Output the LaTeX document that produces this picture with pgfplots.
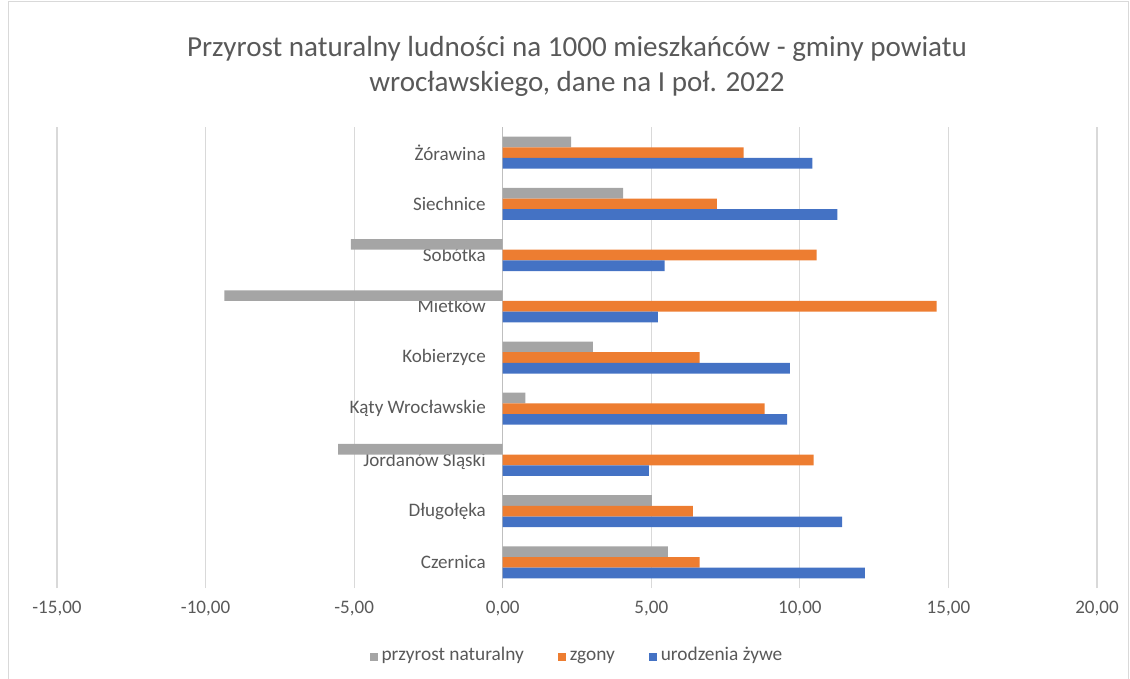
\documentclass[border=0pt]{standalone}
\usepackage{pgfplots}
\pgfplotsset{compat=1.18}
\usepackage{fontspec}
\setmainfont{Carlito}
\definecolor{cgray}{HTML}{A5A5A5}
\definecolor{corange}{HTML}{ED7D31}
\definecolor{cblue}{HTML}{4472C4}
\definecolor{ctext}{HTML}{595959}
\definecolor{cgrid}{HTML}{D9D9D9}
\begin{document}
\begin{tikzpicture}
\path[use as bounding box] (0,0) rectangle (847.5pt,508.5pt);
\draw[cgrid,line width=0.75pt] (6pt,-5pt) rectangle (846pt,507.5pt);
\begin{axis}[
  at={(42.75pt,67.5pt)}, anchor=south west,
  scale only axis, width=780pt, height=345.75pt,
  xbar, bar width=8pt,
  xmin=-15, xmax=20, ymin=-0.5, ymax=8.5,
  xtick={-15,-10,-5,0,5,10,15,20},
  ytick={0,...,8},
  yticklabels={Czernica,Długołęka,Jordanów Śląski,Kąty Wrocławskie,Kobierzyce,Mietków,Sobótka,Siechnice,Żórawina},
  axis line style={draw=none},
  major tick length=0pt,
  xmajorgrids, major grid style={cgrid,line width=0.9pt},
  extra x ticks={0}, extra x tick labels={},
  extra x tick style={major grid style={color=black!25,line width=1pt}},
  /pgf/number format/.cd, fixed, fixed zerofill, precision=2, use comma, assume math mode=true,
  /pgfplots/.cd,
  ticklabel style={font=\fontsize{14.3}{16}\selectfont, text=ctext},
  xticklabel style={anchor=center, yshift=-15.75pt},
  yticklabel style={anchor=east, inner sep=0pt, xshift=321.75pt},
  title={Przyrost naturalny ludności na 1000 mieszkańców - gminy powiatu\\wrocławskiego, dane na I poł. 2022},
  title style={at={(0.5,1)}, anchor=center, yshift=39.6pt, align=center,
    font=\fontsize{21.8}{26.25}\selectfont, text=ctext},
  legend style={at={(0.5,-0.1497)}, anchor=center, draw=none, legend columns=3,
    font=\fontsize{14.5}{16}\selectfont, text=ctext,
    /tikz/column sep=1pt,
    /tikz/every even column/.append style={column sep=24pt},
    nodes={inner sep=1.5pt, text height=1.6ex, text depth=0.45ex}},
  legend cell align=left,
  legend image code/.code={\fill[#1,draw=none] (0pt,-3.2pt) rectangle (6.4pt,3.2pt);},
]
\addplot[fill=cgray, draw=none, bar shift=8pt] coordinates {
(5.56,0) (5.02,1) (-5.54,2) (0.76,3) (3.03,4) (-9.37,5) (-5.11,6) (4.05,7) (2.30,8)};
\addlegendentry{przyrost naturalny}
\addplot[fill=corange, draw=none, bar shift=0pt] coordinates {
(6.63,0) (6.40,1) (10.46,2) (8.81,3) (6.63,4) (14.60,5) (10.56,6) (7.21,7) (8.11,8)};
\addlegendentry{zgony}
\addplot[fill=cblue, draw=none, bar shift=-8pt] coordinates {
(12.19,0) (11.42,1) (4.92,2) (9.57,3) (9.66,4) (5.22,5) (5.45,6) (11.26,7) (10.42,8)};
\addlegendentry{urodzenia żywe}
\end{axis}
\end{tikzpicture}
\end{document}
